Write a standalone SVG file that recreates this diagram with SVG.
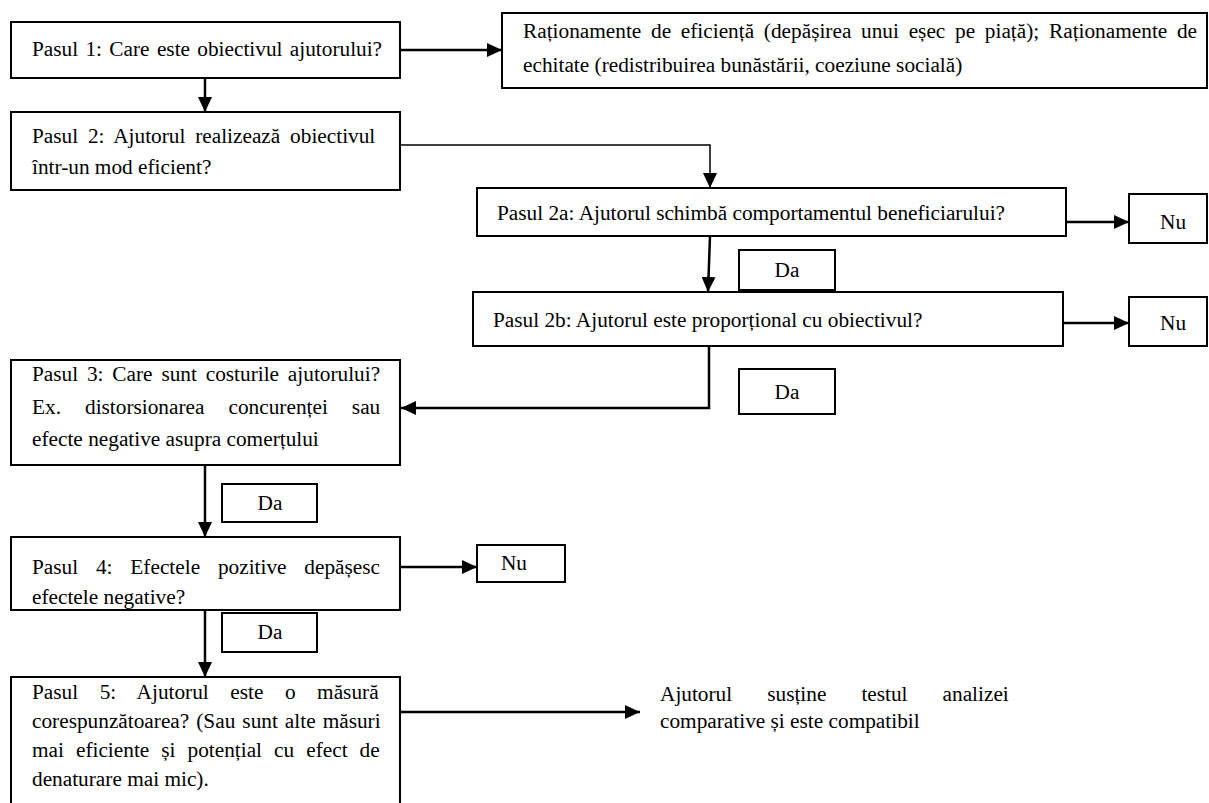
<svg xmlns="http://www.w3.org/2000/svg" width="1209" height="803" viewBox="0 0 1209 803">
<defs>
<style>
.box{fill:#fff;stroke:#000;stroke-width:2}
.t{font-family:"Liberation Serif","Times New Roman",serif;font-size:21.3px;fill:#000}
.c{fill:none;stroke:#000;stroke-width:2.5}
.thin{stroke-width:1.5}
</style>
<marker id="ah" markerWidth="15" markerHeight="14" refX="15" refY="7" orient="auto" markerUnits="userSpaceOnUse"><path d="M0,0 L15,7 L0,14 z" fill="#000"/></marker>
</defs>
<rect width="1209" height="803" fill="#fff"/>
<g id="connectors">
<path class="c" d="M400,50 H502" marker-end="url(#ah)"/>
<path class="c" d="M205,78 V112" marker-end="url(#ah)"/>
<path class="c thin" d="M400,145 H710 V188" marker-end="url(#ah)"/>
<path class="c" d="M1066,222 H1129" marker-end="url(#ah)"/>
<path class="c" d="M710,236 L708,292" marker-end="url(#ah)"/>
<path class="c" d="M1063,323 H1129" marker-end="url(#ah)"/>
<path class="c" d="M709,346 V408 H401" marker-end="url(#ah)"/>
<path class="c" d="M205,465 V537" marker-end="url(#ah)"/>
<path class="c" d="M400,567 H477" marker-end="url(#ah)"/>
<path class="c" d="M205,610 V677" marker-end="url(#ah)"/>
<path class="c" d="M400,712 H640" marker-end="url(#ah)"/>
</g>
<g id="pasul1">
<rect class="box" x="11" y="22" width="389" height="56"/>
<text class="t" x="32" y="56" word-spacing="2">Pasul 1: Care este obiectivul ajutorului?</text>
</g>
<g id="rationamente">
<rect class="box" x="502" y="13" width="705" height="75"/>
<text class="t" x="523" y="38" word-spacing="4.4">Raționamente de eficiență (depășirea unui eșec pe piață); Raționamente de</text>
<text class="t" x="523" y="72">echitate (redistribuirea bunăstării, coeziune socială)</text>
</g>
<g id="pasul2">
<rect class="box" x="11" y="112" width="389" height="78"/>
<text class="t" x="32" y="143" word-spacing="4.5">Pasul 2: Ajutorul realizează obiectivul</text>
<text class="t" x="32" y="174">într-un mod eficient?</text>
</g>
<g id="pasul2a">
<rect class="box" x="477" y="188" width="589" height="48"/>
<text class="t" x="497" y="220">Pasul 2a: Ajutorul schimbă comportamentul beneficiarului?</text>
</g>
<g id="nu1">
<rect class="box" x="1129" y="194" width="78" height="49"/>
<text class="t" x="1160" y="229">Nu</text>
</g>
<g id="da1">
<rect class="box" x="739" y="250" width="96" height="40"/>
<text class="t" x="787" y="277" text-anchor="middle">Da</text>
</g>
<g id="pasul2b">
<rect class="box" x="473" y="292" width="590" height="54"/>
<text class="t" x="493" y="327">Pasul 2b: Ajutorul este proporțional cu obiectivul?</text>
</g>
<g id="nu2">
<rect class="box" x="1129" y="297" width="78" height="49"/>
<text class="t" x="1160" y="330">Nu</text>
</g>
<g id="da2">
<rect class="box" x="739" y="369" width="96" height="45"/>
<text class="t" x="787" y="399" text-anchor="middle">Da</text>
</g>
<g id="pasul3">
<rect class="box" x="11" y="360" width="389" height="105"/>
<text class="t" x="32" y="381" word-spacing="3.5">Pasul 3: Care sunt costurile ajutorului?</text>
<text class="t" x="32" y="414" word-spacing="18.7">Ex. distorsionarea concurenței sau</text>
<text class="t" x="32" y="446">efecte negative asupra comerțului</text>
</g>
<g id="da3">
<rect class="box" x="222" y="484" width="95" height="38"/>
<text class="t" x="270" y="510" text-anchor="middle">Da</text>
</g>
<g id="pasul4">
<rect class="box" x="11" y="537" width="389" height="73"/>
<text class="t" x="32" y="574" word-spacing="12.5">Pasul 4: Efectele pozitive depășesc</text>
<text class="t" x="32" y="604">efectele negative?</text>
</g>
<g id="nu3">
<rect class="box" x="477" y="545" width="88" height="37"/>
<text class="t" x="514" y="570" text-anchor="middle">Nu</text>
</g>
<g id="da4">
<rect class="box" x="222" y="613" width="95" height="39"/>
<text class="t" x="270" y="639" text-anchor="middle">Da</text>
</g>
<g id="pasul5">
<rect class="box" x="11" y="677" width="389" height="140"/>
<text class="t" x="32" y="699" word-spacing="16.2">Pasul 5: Ajutorul este o măsură</text>
<text class="t" x="32" y="728" word-spacing="1.7">corespunzătoarea? (Sau sunt alte măsuri</text>
<text class="t" x="32" y="757" word-spacing="6.7">mai eficiente și potențial cu efect de</text>
<text class="t" x="32" y="786">denaturare mai mic).</text>
</g>
<g id="concluzie">
<text class="t" x="660" y="701" word-spacing="29.7">Ajutorul susține testul analizei</text>
<text class="t" x="660" y="728">comparative și este compatibil</text>
</g>
</svg>
